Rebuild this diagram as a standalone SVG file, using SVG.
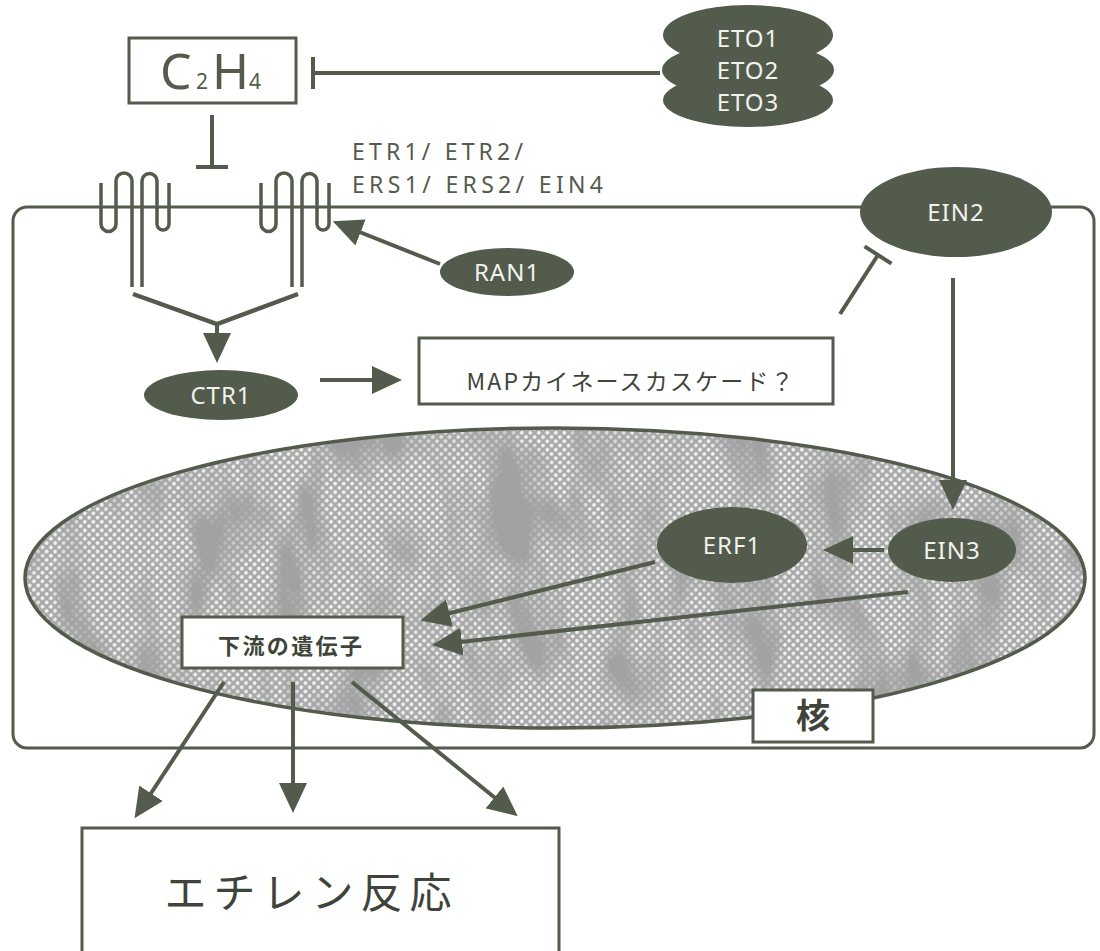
<svg xmlns="http://www.w3.org/2000/svg" width="1100" height="951" viewBox="0 0 1100 951">
  <style>
    .ink { fill: none; stroke: #535b4c; stroke-width: 3.5; }
    .box { fill: #ffffff; stroke: #535b4c; stroke-width: 3; }
    .blob { fill: #535b4c; }
    .wtxt { fill: #f2f2ec; font-family: "Noto Sans", "DejaVu Sans", sans-serif; font-size: 24px; letter-spacing: 1px; text-anchor: middle; }
    .gtxt { fill: #535b4c; font-family: "Noto Sans", "Noto Sans CJK JP", sans-serif; }
    .jtxt { fill: #3e4439; font-family: "Noto Sans CJK JP", "Noto Sans", sans-serif; text-anchor: middle; }
    .arr { fill: none; stroke: #535b4c; stroke-width: 4; marker-end: url(#arrow); }
    .inh { fill: none; stroke: #535b4c; stroke-width: 4; marker-end: url(#tbar); }
  </style>
  <defs>
    <marker id="arrow" viewBox="0 0 30 28" refX="20" refY="14" markerWidth="30" markerHeight="28" markerUnits="userSpaceOnUse" orient="auto">
      <path d="M0,0 L30,14 L0,28 Z" fill="#535b4c"/>
    </marker>
    <marker id="tbar" viewBox="-3 -17 6 34" refX="0" refY="0" markerWidth="6" markerHeight="34" markerUnits="userSpaceOnUse" orient="auto">
      <path d="M0,-16 L0,16" stroke="#535b4c" stroke-width="4"/>
    </marker>
    <pattern id="halftone" width="6" height="6" patternUnits="userSpaceOnUse" patternTransform="rotate(45)">
      <rect width="6" height="6" fill="#a8a8a8"/>
      <circle cx="3" cy="3" r="1.9" fill="#f4f4f4"/>
    </pattern>
    <filter id="mottle" x="0" y="0" width="100%" height="100%">
      <feTurbulence type="fractalNoise" baseFrequency="0.022 0.009" numOctaves="3" seed="11" result="n"/>
      <feColorMatrix in="n" type="matrix" values="0 0 0 0 0.36  0 0 0 0 0.36  0 0 0 0 0.36  3.4 0 0 0 -1.45"/>
    </filter>
    <clipPath id="nucleusClip">
      <ellipse cx="555" cy="578" rx="530" ry="150"/>
    </clipPath>
  </defs>

  <rect width="1100" height="951" fill="#ffffff"/>

  <!-- cell outline -->
  <g id="cell">
    <rect x="13" y="207" width="1081" height="541" rx="14" class="box"/>
  </g>

  <!-- nucleus with mottled halftone fill -->
  <g id="nucleus">
    <ellipse cx="555" cy="578" rx="530" ry="150" fill="url(#halftone)"/>
    <g clip-path="url(#nucleusClip)">
      <rect x="-100" y="300" width="1310" height="560" filter="url(#mottle)" transform="rotate(-8 555 578)"/>
    </g>
    <ellipse cx="555" cy="578" rx="530" ry="150" class="ink"/>
  </g>

  <g id="nucleus-label">
    <rect x="753" y="690" width="120" height="52" class="box"/>
    <text x="813" y="728" class="jtxt" font-size="34" font-weight="bold">核</text>
  </g>

  <!-- connectors -->
  <g id="connectors">
    <!-- ETO inhibits C2H4 -->
    <path d="M660,73 H313" class="inh"/>
    <!-- C2H4 acts on receptors -->
    <path d="M212,115 V167" class="inh"/>
    <!-- receptors converge on CTR1 -->
    <path d="M133,294 L217,324 L298,294" fill="none" stroke="#535b4c" stroke-width="4.5"/>
    <path d="M217,323 V353" class="arr"/>
    <!-- RAN1 to receptor -->
    <path d="M440,264 L342,225" class="arr"/>
    <!-- CTR1 to MAP kinase cascade -->
    <path d="M320,380 H392" class="arr"/>
    <!-- MAP kinase cascade inhibits EIN2 -->
    <path d="M840,314 L878,255" class="inh"/>
    <!-- EIN2 to EIN3 -->
    <path d="M953,278 V500" class="arr"/>
    <!-- EIN3 to ERF1 -->
    <path d="M884,550 H833" class="arr"/>
    <!-- ERF1 to downstream genes -->
    <path d="M655,562 L430,618" class="arr"/>
    <!-- EIN3 to downstream genes -->
    <path d="M908,592 L442,644" class="arr"/>
    <!-- downstream genes to ethylene response -->
    <path d="M224,682 L140,810" class="arr"/>
    <path d="M293,682 V803" class="arr"/>
    <path d="M352,682 L510,810" class="arr"/>
  </g>

  <!-- ethylene -->
  <g id="c2h4">
    <rect x="129" y="38" width="167" height="65" class="box"/>
    <text class="gtxt" y="89" font-size="50"><tspan x="160">C</tspan><tspan x="196" font-size="21">2</tspan><tspan x="212">H</tspan><tspan x="249" font-size="21">4</tspan></text>
  </g>

  <!-- ETO1/2/3 stack -->
  <g id="eto">
    <ellipse cx="748" cy="100" rx="85" ry="27" class="blob"/>
    <ellipse cx="748" cy="70" rx="86" ry="28" class="blob"/>
    <ellipse cx="748" cy="35" rx="85" ry="30" class="blob"/>
    <text x="748" y="47" class="wtxt">ETO1</text>
    <text x="748" y="79" class="wtxt">ETO2</text>
    <text x="748" y="111" class="wtxt">ETO3</text>
  </g>

  <!-- receptor family -->
  <g id="receptors">
    <path class="ink" d="M101,183 V224 A7.5,7.5 0 0 0 116,224 V181 A8,8 0 0 1 132,181 V287 M142,287 V181 A7.5,7.5 0 0 1 157,181 V224 A6,6 0 0 0 169,224 V183"/>
    <path class="ink" d="M261,183 V224 A7.5,7.5 0 0 0 276,224 V181 A8,8 0 0 1 292,181 V287 M302,287 V181 A7.5,7.5 0 0 1 317,181 V224 A6,6 0 0 0 329,224 V183"/>
    <text class="gtxt" x="352" y="160" font-size="23" textLength="171" lengthAdjust="spacing">ETR1/ ETR2/</text>
    <text class="gtxt" x="352" y="193" font-size="23" textLength="251" lengthAdjust="spacing">ERS1/ ERS2/ EIN4</text>
  </g>

  <g id="ran1">
    <ellipse cx="507" cy="272" rx="67" ry="24" class="blob"/>
    <text x="507" y="281" class="wtxt">RAN1</text>
  </g>

  <g id="ctr1">
    <ellipse cx="221" cy="395" rx="77" ry="25" class="blob"/>
    <text x="221" y="404" class="wtxt">CTR1</text>
  </g>

  <g id="map-cascade">
    <rect x="419" y="338" width="414" height="66" class="box"/>
    <text x="630" y="390" class="jtxt" font-size="23" textLength="327" lengthAdjust="spacing" fill="#535b4c">MAPカイネースカスケード？</text>
  </g>

  <g id="ein2">
    <ellipse cx="956" cy="212" rx="96" ry="45" class="blob"/>
    <text x="956" y="221" class="wtxt">EIN2</text>
  </g>

  <g id="ein3">
    <ellipse cx="952" cy="550" rx="64" ry="32" class="blob"/>
    <text x="952" y="559" class="wtxt">EIN3</text>
  </g>

  <g id="erf1">
    <ellipse cx="732" cy="545" rx="75" ry="38" class="blob"/>
    <text x="732" y="554" class="wtxt">ERF1</text>
  </g>

  <g id="downstream-genes">
    <rect x="182" y="617" width="221" height="51" class="box"/>
    <text x="290" y="654" class="jtxt" font-size="22" font-weight="bold" textLength="144" lengthAdjust="spacing">下流の遺伝子</text>
  </g>

  <g id="ethylene-response">
    <path d="M82,953 V828 H559 V953" class="box"/>
    <text x="308" y="908" class="jtxt" font-size="42" textLength="287" lengthAdjust="spacing" fill="#535b4c">エチレン反応</text>
  </g>
</svg>
